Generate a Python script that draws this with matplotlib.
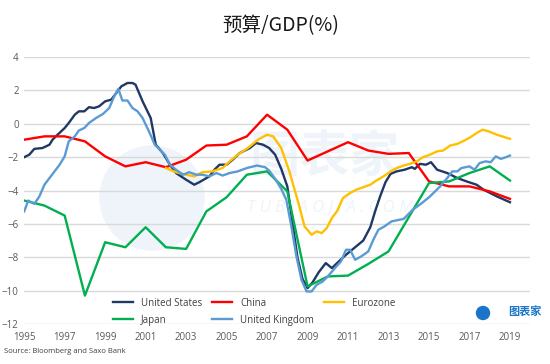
import matplotlib
matplotlib.use("Agg")
import matplotlib.pyplot as plt
from matplotlib.patches import Circle

plt.rcParams['font.family'] = ['Open Sans', 'Noto Sans CJK SC', 'DejaVu Sans']

# 数据
us_years = [1995.0, 1995.25, 1995.5, 1995.9, 1996.25, 1996.4, 1996.65, 1997.0, 1997.2, 1997.5,
            1997.7, 1997.97, 1998.2, 1998.45, 1998.7, 1999.0, 1999.3, 1999.55, 1999.8, 2000.1,
            2000.35, 2000.5, 2000.85, 2001.25, 2001.5, 2001.85, 2002.2, 2002.5, 2003.0, 2003.4,
            2003.65, 2004.15, 2004.4, 2004.65, 2005.0, 2005.3, 2005.65, 2006.15, 2006.45, 2006.8,
            2007.1, 2007.4, 2007.7, 2008.0, 2008.25, 2008.5, 2008.75, 2009.0, 2009.25, 2009.55,
            2009.9, 2010.2, 2010.5, 2010.9, 2011.4, 2011.75, 2012.1, 2012.35, 2012.6, 2012.85,
            2013.1, 2013.4, 2013.8, 2014.15, 2014.3, 2014.55, 2014.85, 2015.1, 2015.4, 2015.9,
            2016.4, 2016.85, 2017.35, 2017.7, 2018.35, 2019.0]
us_vals = [-2.0, -1.85, -1.5, -1.45, -1.25, -0.95, -0.65, -0.25, 0.05, 0.55,
           0.75, 0.75, 1.0, 0.95, 1.05, 1.35, 1.45, 1.85, 2.25, 2.45,
           2.45, 2.35, 1.35, 0.35, -1.25, -1.75, -2.45, -2.95, -3.35, -3.65,
           -3.5, -3.15, -2.75, -2.45, -2.45, -2.15, -1.75, -1.45, -1.15, -1.25,
           -1.45, -1.85, -2.7, -3.75, -5.9, -8.0, -9.3, -9.85, -9.5, -8.9,
           -8.35, -8.65, -8.3, -7.85, -7.35, -7.0, -6.2, -5.2, -4.3, -3.5,
           -3.0, -2.85, -2.75, -2.6, -2.7, -2.4, -2.45, -2.3, -2.75, -2.95,
           -3.25, -3.45, -3.65, -3.95, -4.35, -4.7]

uk_years = [1995.0, 1995.2, 1995.5, 1995.75, 1996.0, 1996.25, 1996.5, 1996.75, 1997.0, 1997.2,
            1997.5, 1997.7, 1997.97, 1998.2, 1998.55, 1998.9, 1999.2, 1999.45, 1999.65, 1999.85,
            2000.1, 2000.35, 2000.6, 2000.85, 2001.2, 2001.45, 2001.7, 2001.95, 2002.2, 2002.5,
            2002.85, 2003.15, 2003.5, 2003.8, 2004.15, 2004.5, 2004.8, 2005.15, 2005.55, 2006.0,
            2006.5, 2006.9, 2007.1, 2007.4, 2007.7, 2007.95, 2008.2, 2008.45, 2008.7, 2008.95,
            2009.2, 2009.45, 2009.75, 2010.0, 2010.35, 2010.65, 2010.9, 2011.1, 2011.35, 2011.65,
            2012.0, 2012.25, 2012.5, 2012.8, 2013.15, 2013.75, 2014.2, 2014.65, 2015.05, 2015.55,
            2015.9, 2016.15, 2016.4, 2016.6, 2017.0, 2017.25, 2017.5, 2017.8, 2018.05, 2018.3,
            2018.55, 2018.8, 2019.0]
uk_vals = [-5.25, -4.6, -4.8, -4.35, -3.65, -3.25, -2.85, -2.45, -1.95, -1.05,
           -0.75, -0.4, -0.25, 0.05, 0.35, 0.6, 0.95, 1.65, 2.1, 1.4,
           1.4, 0.95, 0.75, 0.35, -0.55, -1.25, -1.55, -1.85, -2.45, -2.75,
           -3.05, -2.9, -3.05, -3.05, -3.15, -2.95, -3.1, -2.95, -2.85, -2.65,
           -2.5, -2.6, -2.8, -3.3, -3.9, -4.55, -6.15, -7.95, -9.35, -10.05,
           -10.05, -9.65, -9.45, -9.15, -8.65, -8.25, -7.55, -7.55, -8.15, -7.95,
           -7.65, -6.95, -6.35, -6.15, -5.85, -5.7, -5.15, -4.75, -4.35, -3.75,
           -3.25, -2.85, -2.85, -2.65, -2.55, -2.75, -2.35, -2.25, -2.3, -1.95,
           -2.1, -2.0, -1.9]

ez_years = [2002.0, 2002.5, 2003.0, 2003.4, 2003.8, 2004.3, 2004.8, 2005.15, 2005.55, 2006.05,
            2006.55, 2007.0, 2007.3, 2007.7, 2008.1, 2008.55, 2008.85, 2009.2, 2009.45, 2009.7,
            2009.95, 2010.2, 2010.45, 2010.75, 2011.1, 2011.4, 2011.75, 2012.1, 2012.4, 2012.75,
            2013.1, 2013.4, 2013.75, 2014.05, 2014.4, 2014.7, 2015.05, 2015.4, 2015.7, 2016.05,
            2016.4, 2016.75, 2017.05, 2017.35, 2017.65, 2017.95, 2018.35, 2019.0]
ez_vals = [-2.65, -2.9, -3.05, -3.15, -2.9, -2.85, -2.65, -2.25, -1.85, -1.45,
           -0.95, -0.65, -0.75, -1.45, -2.85, -4.75, -6.15, -6.65, -6.45, -6.55,
           -6.25, -5.65, -5.25, -4.45, -4.15, -3.95, -3.8, -3.65, -3.4, -3.15,
           -2.85, -2.65, -2.5, -2.4, -2.25, -2.0, -1.85, -1.65, -1.6, -1.3,
           -1.2, -1.0, -0.8, -0.55, -0.35, -0.45, -0.65, -0.9]

annual_years = list(range(1995, 2020))
china_vals = [-0.95, -0.75, -0.75, -1.05, -1.95, -2.55, -2.3, -2.6, -2.15, -1.3,
              -1.25, -0.75, 0.55, -0.35, -2.2, -1.65, -1.1, -1.6, -1.8, -1.75,
              -3.45, -3.75, -3.75, -4.05, -4.5]
japan_vals = [-4.6, -4.9, -5.5, -10.3, -7.1, -7.4, -6.2, -7.4, -7.5, -5.25,
              -4.4, -3.05, -2.85, -4.05, -9.75, -9.15, -9.1, -8.4, -7.65, -5.6,
              -3.55, -3.45, -2.95, -2.55, -3.4]

xticks = list(range(1995, 2020, 2))
yticks = list(range(-12, 5, 2))

fig = plt.figure(figsize=(5.5, 3.64), dpi=100)
ax = fig.add_axes([0.044, 0.11, 0.92, 0.733])
ax.patch.set_alpha(0)

# 水印
fig.add_artist(Circle((152, 166), 52, transform=None, color='#eef4fa', zorder=-2))
fig.text(0.59, 0.565, '图表家', fontsize=36, color='#eef4fa', ha='center', va='center', zorder=-1,
         family=['Noto Sans CJK SC'], fontweight='bold')
fig.text(0.6, 0.43, 'T U B I A O J I A . C O M', fontsize=12, color='#eef4fa', ha='center',
         va='center', zorder=-1, style='italic')

lw = 1.7
l_us, = ax.plot(us_years, us_vals, color='#1f3864', lw=lw, label='United States')
l_cn, = ax.plot(annual_years, china_vals, color='#ff0000', lw=lw, label='China')
l_ez, = ax.plot(ez_years, ez_vals, color='#ffc000', lw=lw, label='Eurozone')
l_jp, = ax.plot(annual_years, japan_vals, color='#00b050', lw=lw, label='Japan')
l_uk, = ax.plot(uk_years, uk_vals, color='#5b9bd5', lw=lw, label='United Kingdom')

ax.set_xlim(1995, 2020)
ax.set_ylim(-12, 4)
ax.set_xticks(xticks)
ax.set_yticks(yticks)
ax.tick_params(length=0, labelsize=7, colors='#595959')
ax.tick_params(axis='y', pad=4)
ax.tick_params(axis='x', pad=6)
for s in ax.spines.values():
    s.set_visible(False)
ax.grid(axis='y', color='#d9d9d9', lw=1)
ax.set_axisbelow(True)

ax.legend([l_us, l_jp, l_cn, l_uk, l_ez],
          ['United States', 'Japan', 'China', 'United Kingdom', 'Eurozone'],
          ncol=3, frameon=False, fontsize=7, loc='upper left',
          bbox_to_anchor=(104 / 550, 1 - 289 / 364), bbox_transform=fig.transFigure,
          handlelength=2.1, columnspacing=1.0, labelspacing=0.6, labelcolor='#404040')

fig.text(0.51, 0.93, '预算/GDP(%)', fontsize=14, ha='center', va='center', color='#1a1a1a',
         family=['Noto Sans CJK SC'])
fig.text(0.008, 0.033, 'Source: Bloomberg and Saxo Bank', fontsize=5.5, color='#404040', va='center')

# 右下角标志
fig.add_artist(Circle((483, 364 - 313), 6.5, transform=None, color='#1a75c9'))
fig.text(0.955, 1 - 311 / 364, '图表家', fontsize=8, color='#1a75c9', ha='center', va='center',
         family=['Noto Sans CJK SC'], fontweight='bold')

fig.savefig('out.png', dpi=100)
